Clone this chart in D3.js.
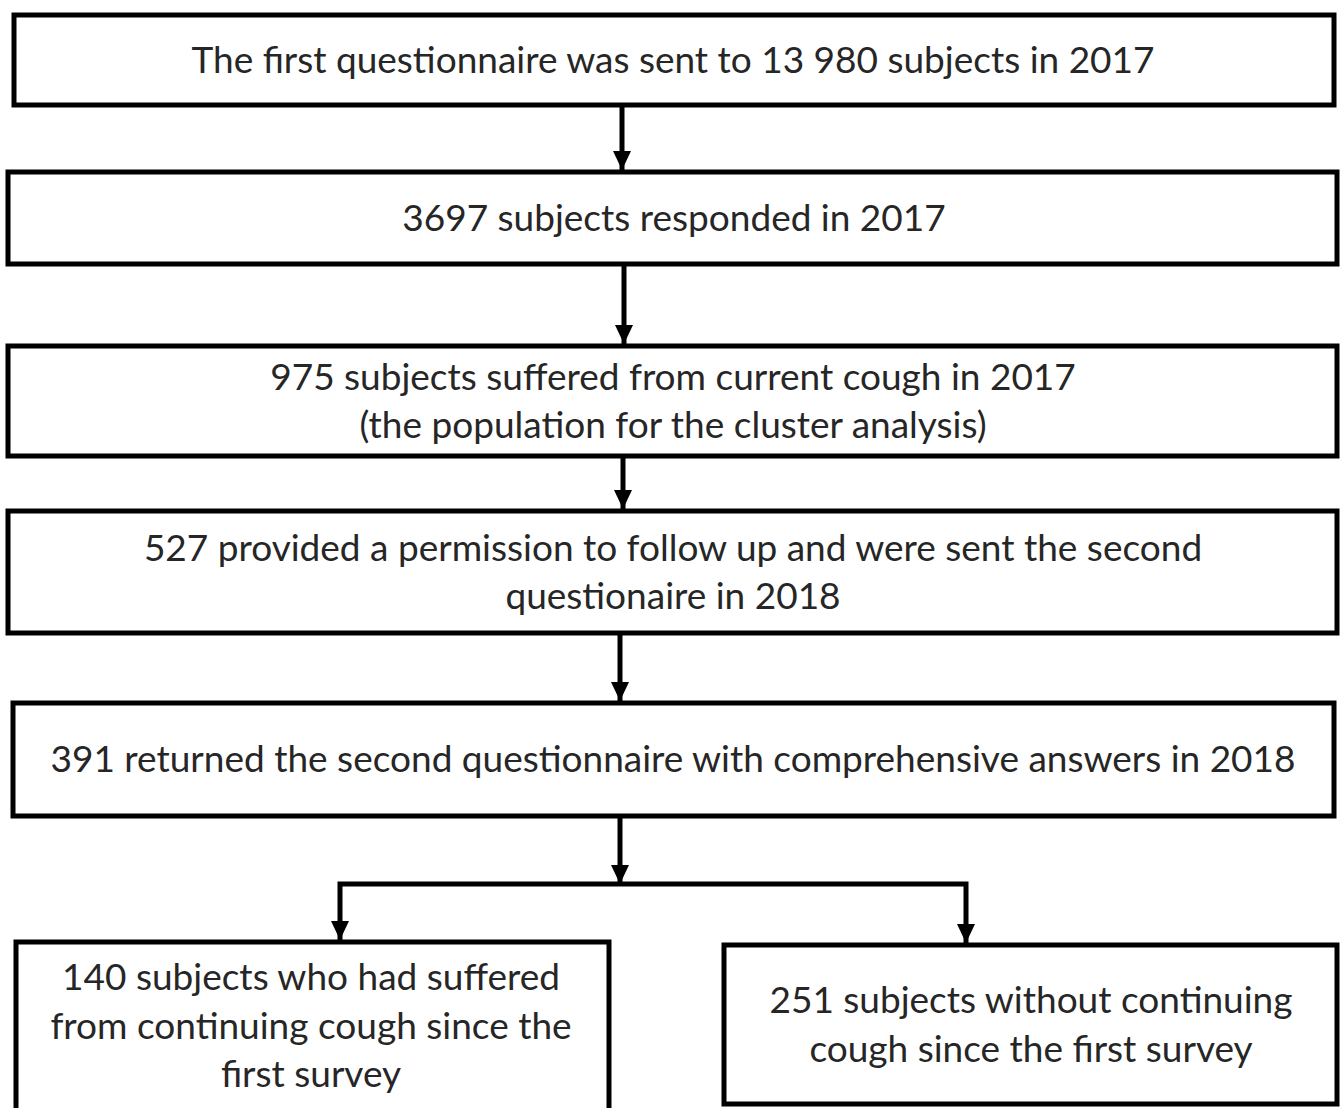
<!DOCTYPE html>
<html>
<head>
<meta charset="utf-8">
<script src="https://cdn.jsdelivr.net/npm/d3@7"></script>
<style>
  html, body { margin: 0; padding: 0; background: #fff; }
  svg { display: block; }
  .box { fill: #fff; stroke: #000; stroke-width: 5; }
  .link { fill: none; stroke: #000; stroke-width: 5; }
  .label { font-family: Lato, "Open Sans", sans-serif; font-size: 37px; fill: #262626; }
</style>
</head>
<body>
<div id="chart"></div>
<script>
// flow steps (text only)
const stepIds = [`sent`, `responded`, `cough`, `permission`, `returned`, `continuing`, `without`];
const stepLines = [
  [`The first questionnaire was sent to 13 980 subjects in 2017`],
  [`3697 subjects responded in 2017`],
  [`975 subjects suffered from current cough in 2017`, `(the population for the cluster analysis)`],
  [`527 provided a permission to follow up and were sent the second`, `questionaire in 2018`],
  [`391 returned the second questionnaire with comprehensive answers in 2018`],
  [`140 subjects who had suffered`, `from continuing cough since the`, `first survey`],
  [`251 subjects without continuing`, `cough since the first survey`]
];
const links = [
  [`sent`, `responded`],
  [`responded`, `cough`],
  [`cough`, `permission`],
  [`permission`, `returned`],
  [`returned`, `continuing`],
  [`returned`, `without`]
];

// layout of the boxes on the page
const layout = {
  sent:       { x0: 14, x1: 1334, y0: 15, y1: 105, cx: 622, tx: 673 },
  responded:  { x0: 8,  x1: 1337, y0: 172, y1: 264, cx: 624, tx: 674 },
  cough:      { x0: 8,  x1: 1337, y0: 346, y1: 456, cx: 623, tx: 673 },
  permission: { x0: 8,  x1: 1337, y0: 511, y1: 633, cx: 620, tx: 673 },
  returned:   { x0: 13, x1: 1334, y0: 703, y1: 816, cx: 620, tx: 673 },
  continuing: { x0: 16, x1: 609, y0: 942, y1: 1112, cx: 340, tx: 311, ty: 1026 },
  without:    { x0: 724, x1: 1337, y0: 945, y1: 1104, cx: 966, tx: 1031 }
};
const branchY = 884;
const lineHeight = 48.5;

const width = 1340, height = 1108;
const svg = d3.select(`#chart`).append(`svg`)
  .attr(`width`, width)
  .attr(`height`, height);

const steps = stepIds.map((id, i) => ({ id, lines: stepLines[i], ...layout[id] }));

// arrows
const head = 9, headLen = 19;
const arrowHead = (x, y) => `M${x - head},${y - headLen}L${x + head},${y - headLen}L${x},${y}Z`;

links.forEach(([from, to]) => {
  const a = layout[from], b = layout[to];
  let pts;
  if (from === `returned`) {
    pts = [[a.cx, branchY], [b.cx, branchY], [b.cx, b.y0 - 2]];
  } else {
    pts = [[a.cx, a.y1], [a.cx, b.y0 - 2]];
  }
  svg.append(`path`).attr(`class`, `link`).attr(`d`, d3.line()(pts));
  svg.append(`path`).attr(`d`, arrowHead(pts[pts.length - 1][0], pts[pts.length - 1][1])).attr(`fill`, `#000`);
});
// trunk from 391 box down to the branch line
svg.append(`path`).attr(`class`, `link`).attr(`d`, d3.line()([[layout.returned.cx, layout.returned.y1], [layout.returned.cx, branchY]]));
svg.append(`path`).attr(`d`, arrowHead(layout.returned.cx, branchY)).attr(`fill`, `#000`);

// boxes
const g = svg.selectAll(`g.step`)
  .data(steps)
  .enter().append(`g`)
    .attr(`class`, `step`);

g.append(`rect`)
  .attr(`class`, `box`)
  .attr(`x`, (d) => d.x0)
  .attr(`y`, (d) => d.y0)
  .attr(`width`, (d) => d.x1 - d.x0)
  .attr(`height`, (d) => d.y1 - d.y0);

g.each(function(d) {
  const n = d.lines.length;
  const midY = d.ty || (d.y0 + d.y1) / 2;
  d3.select(this).selectAll(`text`)
    .data(d.lines)
    .enter().append(`text`)
      .attr(`class`, `label`)
      .attr(`x`, d.tx)
      .attr(`y`, (t, i) => midY + (i - (n - 1) / 2) * lineHeight)
      .attr(`dy`, `0.35em`)
      .attr(`text-anchor`, `middle`)
      .text((t) => t);
});
</script>
</body>
</html>
